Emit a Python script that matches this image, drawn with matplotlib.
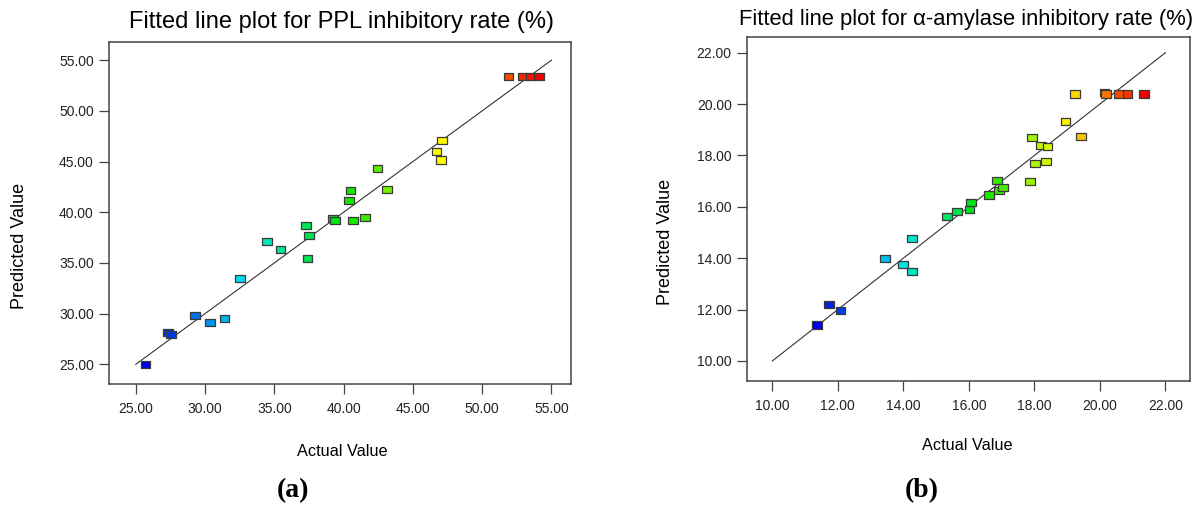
"""Predicted vs actual plots (Design-Expert style) for PPL and alpha-amylase inhibition."""
import numpy as np
import matplotlib
matplotlib.use("Agg")
import matplotlib.pyplot as plt
from matplotlib.colors import LinearSegmentedColormap, Normalize

plt.rcParams["font.family"] = ["Liberation Sans", "DejaVu Sans"]

# panel (a): PPL inhibitory rate (%)
ppl_actual = [25.7, 27.35, 27.55, 29.25, 30.35, 31.4, 32.5, 34.45, 35.45,
              37.3, 37.5, 37.4, 39.25, 39.35, 40.65, 40.5, 40.4, 41.55,
              42.45, 43.15, 46.7, 47.1, 47.05, 51.9, 52.95, 53.5, 54.1]
ppl_pred = [24.95, 28.1, 27.95, 29.8, 29.1, 29.55, 33.5, 37.15, 36.35,
            38.65, 37.7, 35.45, 39.4, 39.2, 39.2, 42.1, 41.15, 39.5,
            44.3, 42.2, 45.95, 47.1, 45.15, 53.4, 53.4, 53.4, 53.4]
ppl_fit = [25.0, 55.0]
ppl_ticks = [25, 30, 35, 40, 45, 50, 55]

# panel (b): alpha-amylase inhibitory rate (%)
amy_actual = [11.36, 11.72, 12.08, 13.45, 13.98, 14.27, 14.27, 15.34, 15.63,
              16.02, 16.07, 16.62, 16.85, 16.92, 17.03, 17.87, 18.03, 18.36,
              17.92, 18.2, 18.4, 18.95, 19.43, 19.23, 20.14, 20.18, 20.58,
              20.84, 21.35]
amy_pred = [11.4, 12.18, 11.97, 13.98, 13.74, 13.47, 14.75, 15.64, 15.81,
            15.91, 16.16, 16.46, 17.02, 16.63, 16.76, 16.98, 17.68, 17.78,
            18.69, 18.37, 18.33, 19.33, 18.72, 20.39, 20.46, 20.39, 20.39,
            20.39, 20.39]
amy_fit = [10.0, 22.0]
amy_ticks = [10, 12, 14, 16, 18, 20, 22]

# blue -> cyan -> green -> yellow -> red, coloured by actual value
cmap = LinearSegmentedColormap.from_list(
    "de", ["#0000e0", "#00e4f0", "#00e400", "#ffff00", "#f00000"])
box = [(-1, -0.72), (1, -0.72), (1, 0.72), (-1, 0.72), (-1, -0.72)]


def panel(ax, actual, pred, fit, ticks, xlim, ylim):
    norm = Normalize(min(actual), max(actual))
    ax.plot(fit, fit, color="#333333", lw=0.8, zorder=2)
    ax.scatter(actual, pred, c=actual, cmap=cmap, norm=norm, marker=box,
               s=50, edgecolors="#3a3a3a", linewidths=0.9, zorder=3)
    ax.set_xlim(*xlim)
    ax.set_ylim(*ylim)
    ax.set_xticks(ticks)
    ax.set_yticks(ticks)
    ax.xaxis.set_major_formatter(plt.FuncFormatter(lambda v, _p: f"{v:.2f}"))
    ax.yaxis.set_major_formatter(plt.FuncFormatter(lambda v, _p: f"{v:.2f}"))
    ax.tick_params(direction="out", length=7, width=0.9, color="#444444",
                   labelsize=10, labelcolor="#222222", pad=4)
    ax.tick_params(axis="x", pad=6)
    for s in ax.spines.values():
        s.set_color("#444444")
        s.set_linewidth(1.1)


fig = plt.figure(figsize=(12, 5.08), dpi=100)
ax1 = fig.add_axes([109 / 1200, 1 - 384 / 508, 462 / 1200, 342 / 508])
ax2 = fig.add_axes([747 / 1200, 1 - 381 / 508, 443 / 1200, 344 / 508])

panel(ax1, ppl_actual, ppl_pred, ppl_fit, ppl_ticks, (23.07, 56.41), (23.06, 56.79))
panel(ax2, amy_actual, amy_pred, amy_fit, amy_ticks, (9.227, 22.75), (9.22, 22.61))

W, H = 1200, 508


def ftext(x, y, s, **kw):
    fig.text(x / W, 1 - y / H, s, ha="center", va="center", **kw)


ftext(342, 22, "Fitted line plot for PPL inhibitory rate (%)", fontsize=17)
ftext(966, 19, "Fitted line plot for α-amylase inhibitory rate (%)", fontsize=15.8)
ftext(342, 451, "Actual Value", fontsize=11.7)
ftext(967, 446, "Actual Value", fontsize=11.7)
ftext(20, 246, "Predicted Value", fontsize=13, rotation=90)
ftext(665, 242, "Predicted Value", fontsize=13, rotation=90)
ftext(293, 491, "(a)", fontsize=20, fontweight="bold", family="Liberation Serif")
ftext(922, 491, "(b)", fontsize=20, fontweight="bold", family="Liberation Serif")

fig.savefig("out.png", dpi=100)
